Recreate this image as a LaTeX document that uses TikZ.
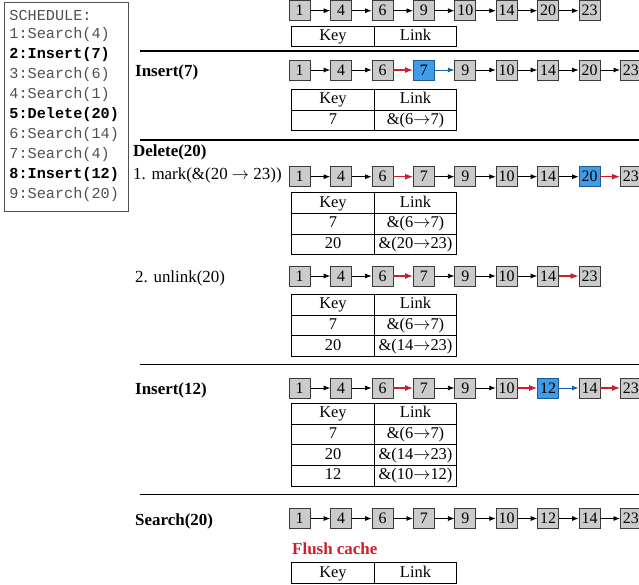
\documentclass[tikz,border=0pt]{standalone}
\usepackage{fontspec}
\setmainfont{Liberation Serif}
\newfontfamily\monof{Liberation Mono}
\usetikzlibrary{arrows.meta}
\definecolor{boxgray}{HTML}{CBCBCB}
\definecolor{boxedge}{HTML}{3A3A3A}
\definecolor{boxblue}{HTML}{3E9CEA}
\definecolor{blueedge}{HTML}{1A5B96}
\definecolor{arrred}{HTML}{CC1F2D}
\definecolor{arrblue}{HTML}{1B5E9E}
\definecolor{schedgray}{HTML}{505050}
\tikzset{
  gbox/.style={draw=boxedge, fill=boxgray, line width=0.8bp, minimum width=21bp, minimum height=20bp, inner sep=0pt, text height=10.5bp, text depth=0bp, font=\fontsize{16}{18}\selectfont},
  bbox/.style={gbox, draw=blueedge, fill=boxblue},
  blk/.style={draw=black, line width=0.8bp, -{Latex[length=6.5bp,width=5bp]}},
  rarr/.style={draw=arrred, line width=1.1bp, -{Latex[length=8bp,width=6bp]}},
  barr/.style={draw=arrblue, line width=0.9bp, -{Latex[length=6.5bp,width=5bp]}},
  cell/.style={draw=black, line width=0.8bp, minimum width=82.5bp, minimum height=20.7bp, inner sep=0pt, text height=11.5bp, text depth=3.5bp, font=\fontsize{16.5}{19}\selectfont},
  lab/.style={anchor=west, inner sep=0pt, font=\fontsize{17}{20}\selectfont\bfseries},
  plab/.style={anchor=west, inner sep=0pt, font=\fontsize{17}{20}\selectfont},
  sline/.style={anchor=west, inner sep=0pt, text=schedgray, font=\fontsize{15.25}{18}\monof},
  bsline/.style={anchor=west, inner sep=0pt, text=black, font=\fontsize{15.25}{18}\monof\bfseries},
  rule/.style={draw=black, line width=1.3bp},
  schedbox/.style={draw=schedgray, line width=0.8bp, minimum width=124bp, minimum height=209bp, anchor=north west, inner sep=0pt}
}
\newcommand{\keycol}{333}
\newcommand{\linkcol}{415.5}
\begin{document}
\begin{tikzpicture}[x=1bp,y=-1bp]
\useasboundingbox[fill=white] (0,0) rectangle (639,585);

% schedule
\node[schedbox] (sched) at (4,1.7) {};
\node[sline]  (s0) at (9.3,15) {SCHEDULE:};
\node[sline]  (s1) at (9.3,35) {1:Search(4)};
\node[bsline] (s2) at (9.3,55) {2:Insert(7)};
\node[sline]  (s3) at (9.3,75) {3:Search(6)};
\node[sline]  (s4) at (9.3,95) {4:Search(1)};
\node[bsline] (s5) at (9.3,115) {5:Delete(20)};
\node[sline]  (s6) at (9.3,135) {6:Search(14)};
\node[sline]  (s7) at (9.3,155) {7:Search(4)};
\node[bsline] (s8) at (9.3,175) {8:Insert(12)};
\node[sline]  (s9) at (9.3,195) {9:Search(20)};

% rules
\coordinate (L1a) at (140,51);  \coordinate (L1b) at (639,51);
\coordinate (L2a) at (140,140); \coordinate (L2b) at (639,140);
\coordinate (L3a) at (140,364.3); \coordinate (L3b) at (639,364.3);
\coordinate (L4a) at (140,494.3); \coordinate (L4b) at (639,494.3);
\draw[rule] (L1a) -- (L1b);
\draw[rule] (L2a) -- (L2b);
\draw[rule] (L3a) -- (L3b);
\draw[rule] (L4a) -- (L4b);

% Row A
\foreach \lab/\st [count=\i from 0] in {1/gbox,4/gbox,6/gbox,9/gbox,10/gbox,14/gbox,20/gbox,23/gbox}
  \node[\st] (A\i) at (299.7+41.4*\i,10.7) {\lab};
\foreach \i/\j/\c in {0/1/blk,1/2/blk,2/3/blk,3/4/blk,4/5/blk,5/6/blk,6/7/blk}
  \draw[\c] (A\i) -- (A\j);
\node[cell] (TAk0) at (\keycol,36.4) {Key};
\node[cell] (TAl0) at (\linkcol,36.4) {Link};

% Row B
\node[lab] (labB) at (135,72) {Insert(7)};
\foreach \lab/\st [count=\i from 0] in {1/gbox,4/gbox,6/gbox,7/bbox,9/gbox,10/gbox,14/gbox,20/gbox,23/gbox}
  \node[\st] (B\i) at (299.7+41.4*\i,70) {\lab};
\foreach \i/\j/\c in {0/1/blk,1/2/blk,2/3/rarr,3/4/barr,4/5/blk,5/6/blk,6/7/blk,7/8/blk}
  \draw[\c] (B\i) -- (B\j);
\node[cell] (TBk0) at (\keycol,99.65) {Key};
\node[cell] (TBl0) at (\linkcol,99.65) {Link};
\node[cell] (TBk1) at (\keycol,120.35) {7};
\node[cell] (TBl1) at (\linkcol,120.35) {\&(6$\rightarrow$7)};

% Row C
\node[lab] (labC) at (133,152) {Delete(20)};
\node[plab] (labC1) at (133,175) {1. mark(\&(20 $\rightarrow$ 23))};
\foreach \lab/\st [count=\i from 0] in {1/gbox,4/gbox,6/gbox,7/gbox,9/gbox,10/gbox,14/gbox,20/bbox,23/gbox}
  \node[\st] (C\i) at (299.7+41.4*\i,176.7) {\lab};
\foreach \i/\j/\c in {0/1/blk,1/2/blk,2/3/rarr,3/4/blk,4/5/blk,5/6/blk,6/7/blk,7/8/rarr}
  \draw[\c] (C\i) -- (C\j);
\node[cell] (TCk0) at (\keycol,203.05) {Key};
\node[cell] (TCl0) at (\linkcol,203.05) {Link};
\node[cell] (TCk1) at (\keycol,223.75) {7};
\node[cell] (TCl1) at (\linkcol,223.75) {\&(6$\rightarrow$7)};
\node[cell] (TCk2) at (\keycol,244.45) {20};
\node[cell] (TCl2) at (\linkcol,244.45) {\&(20$\rightarrow$23)};

% Row D
\node[plab] (labD) at (135,278) {2. unlink(20)};
\foreach \lab/\st [count=\i from 0] in {1/gbox,4/gbox,6/gbox,7/gbox,9/gbox,10/gbox,14/gbox,23/gbox}
  \node[\st] (D\i) at (299.7+41.4*\i,276) {\lab};
\foreach \i/\j/\c in {0/1/blk,1/2/blk,2/3/rarr,3/4/blk,4/5/blk,5/6/blk,6/7/rarr}
  \draw[\c] (D\i) -- (D\j);
\node[cell] (TDk0) at (\keycol,304.65) {Key};
\node[cell] (TDl0) at (\linkcol,304.65) {Link};
\node[cell] (TDk1) at (\keycol,325.35) {7};
\node[cell] (TDl1) at (\linkcol,325.35) {\&(6$\rightarrow$7)};
\node[cell] (TDk2) at (\keycol,346.05) {20};
\node[cell] (TDl2) at (\linkcol,346.05) {\&(14$\rightarrow$23)};

% Row E
\node[lab] (labE) at (135,390) {Insert(12)};
\foreach \lab/\st [count=\i from 0] in {1/gbox,4/gbox,6/gbox,7/gbox,9/gbox,10/gbox,12/bbox,14/gbox,23/gbox}
  \node[\st] (E\i) at (299.7+41.4*\i,388) {\lab};
\foreach \i/\j/\c in {0/1/blk,1/2/blk,2/3/rarr,3/4/blk,4/5/blk,5/6/rarr,6/7/barr,7/8/rarr}
  \draw[\c] (E\i) -- (E\j);
\node[cell] (TEk0) at (\keycol,413.65) {Key};
\node[cell] (TEl0) at (\linkcol,413.65) {Link};
\node[cell] (TEk1) at (\keycol,434.35) {7};
\node[cell] (TEl1) at (\linkcol,434.35) {\&(6$\rightarrow$7)};
\node[cell] (TEk2) at (\keycol,455.05) {20};
\node[cell] (TEl2) at (\linkcol,455.05) {\&(14$\rightarrow$23)};
\node[cell] (TEk3) at (\keycol,475.75) {12};
\node[cell] (TEl3) at (\linkcol,475.75) {\&(10$\rightarrow$12)};

% Row F
\node[lab] (labF) at (135,521) {Search(20)};
\foreach \lab/\st [count=\i from 0] in {1/gbox,4/gbox,6/gbox,7/gbox,9/gbox,10/gbox,12/gbox,14/gbox,23/gbox}
  \node[\st] (F\i) at (299.7+41.4*\i,518.5) {\lab};
\foreach \i/\j/\c in {0/1/blk,1/2/blk,2/3/blk,3/4/blk,4/5/blk,5/6/blk,6/7/blk,7/8/blk}
  \draw[\c] (F\i) -- (F\j);
\node[lab, text=arrred] (flush) at (292,549) {Flush cache};
\node[cell] (TFk0) at (\keycol,573) {Key};
\node[cell] (TFl0) at (\linkcol,573) {Link};
\end{tikzpicture}
\end{document}
